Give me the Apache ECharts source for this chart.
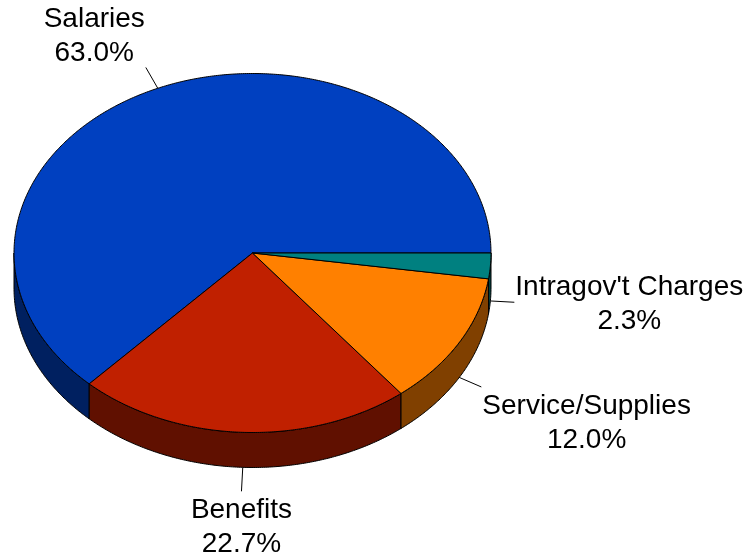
<!DOCTYPE html>
<html>
<head>
<meta charset="utf-8">
<title>Expense breakdown</title>
<script src="https://cdn.jsdelivr.net/npm/echarts@6/dist/echarts.min.js"></script>
<style>
  html, body { margin: 0; padding: 0; background: #ffffff; }
  #chart { width: 751px; height: 558px; }
</style>
</head>
<body>
<div id="chart"></div>
<script>
// Spending categories and their share of the total, in percent
const categories = ['Salaries', 'Benefits', 'Service/Supplies', "Intragov't Charges"];
const shares = [63.0, 22.7, 12.0, 2.3];

// Face and side colours of each slice
const topColors = ['#0040C0', '#C02000', '#FF8000', '#008080'];
const sideColors = ['#002060', '#601000', '#804000', '#004040'];

// Tilted-disc geometry
const cx = 252.5, cy = 253, rx = 238.5, ry = 179.5, depth = 35;
const FONT_SIZE = 28;
const FONT_FAMILY = '"Liberation Sans", Arial, sans-serif';
const LINE_H = 34;
const LEADER = 24;

const total = shares.reduce((s, v) => s + v, 0);

function pt(t, dz) {
  return [cx + rx * Math.cos(t), cy - ry * Math.sin(t) + (dz || 0)];
}
function arc(a0, a1, dz) {
  const pts = [];
  const n = Math.max(2, Math.ceil(Math.abs(a1 - a0) / (Math.PI / 360)));
  for (let i = 0; i <= n; i++) pts.push(pt(a0 + (a1 - a0) * i / n, dz));
  return pts;
}

const measureCtx = document.createElement('canvas').getContext('2d');
measureCtx.font = FONT_SIZE + 'px ' + FONT_FAMILY;
function blockWidth(lines) {
  return Math.max.apply(null, lines.map(l => measureCtx.measureText(l).width));
}

function renderSlice(params, api) {
  const i = params.dataIndex;
  let before = 0;
  for (let k = 0; k < i; k++) before += shares[k];
  const value = api.value(0);
  const a0 = before / total * 2 * Math.PI;
  const a1 = (before + value) / total * 2 * Math.PI;
  const children = [];

  // visible outer wall (front half of the disc)
  const lo = Math.max(a0, Math.PI), hi = Math.min(a1, 2 * Math.PI);
  if (lo < hi) {
    const wall = arc(lo, hi, 0).concat(arc(hi, lo, depth));
    children.push({
      type: 'polygon',
      shape: { points: wall },
      style: { fill: sideColors[i], stroke: '#000', lineWidth: 1 }
    });
  }

  // top face
  const face = [[cx, cy]].concat(arc(a0, a1, 0));
  children.push({
    type: 'polygon',
    shape: { points: face },
    style: { fill: topColors[i], stroke: '#000', lineWidth: 1 }
  });

  // leader line from the rim at the slice's mid-angle
  const am = (a0 + a1) / 2;
  const front = Math.sin(am) < 0;
  const p0 = pt(am, front ? depth : 0);
  const vx = rx * Math.cos(am), vy = -ry * Math.sin(am);
  const len = Math.hypot(vx, vy);
  const dx = vx / len, dy = vy / len;
  const p1 = [p0[0] + dx * LEADER, p0[1] + dy * LEADER];
  children.push({
    type: 'line',
    shape: { x1: p0[0], y1: p0[1], x2: p1[0], y2: p1[1] },
    style: { stroke: '#000', lineWidth: 1 }
  });

  // two-line label anchored at the end of the leader
  const lines = [categories[i], value.toFixed(1) + '%'];
  const w = blockWidth(lines);
  const h = LINE_H * 2;
  let tx, ty;
  if (Math.abs(dx) < 0.2) tx = p1[0];
  else if (dx > 0) tx = p1[0] + 1 + w / 2;
  else tx = p1[0] - 1 - w / 2;
  if (Math.abs(dy) < 0.2) ty = p1[1] + 2;
  else if (dy > 0) ty = p1[1] + h / 2 + 2;
  else ty = p1[1] - h / 2 + 3;
  children.push({
    type: 'text',
    style: {
      text: lines.join('\n'),
      x: tx, y: ty,
      align: 'center', verticalAlign: 'middle',
      fontSize: FONT_SIZE, fontFamily: FONT_FAMILY,
      lineHeight: LINE_H, fill: '#000'
    }
  });

  return { type: 'group', children: children };
}

const chart = echarts.init(document.getElementById('chart'), null, { renderer: 'canvas' });
chart.setOption({
  backgroundColor: '#ffffff',
  animation: false,
  series: [{
    type: 'custom',
    coordinateSystem: 'none',
    renderItem: renderSlice,
    data: shares.map(v => [v])
  }]
});
</script>
</body>
</html>
